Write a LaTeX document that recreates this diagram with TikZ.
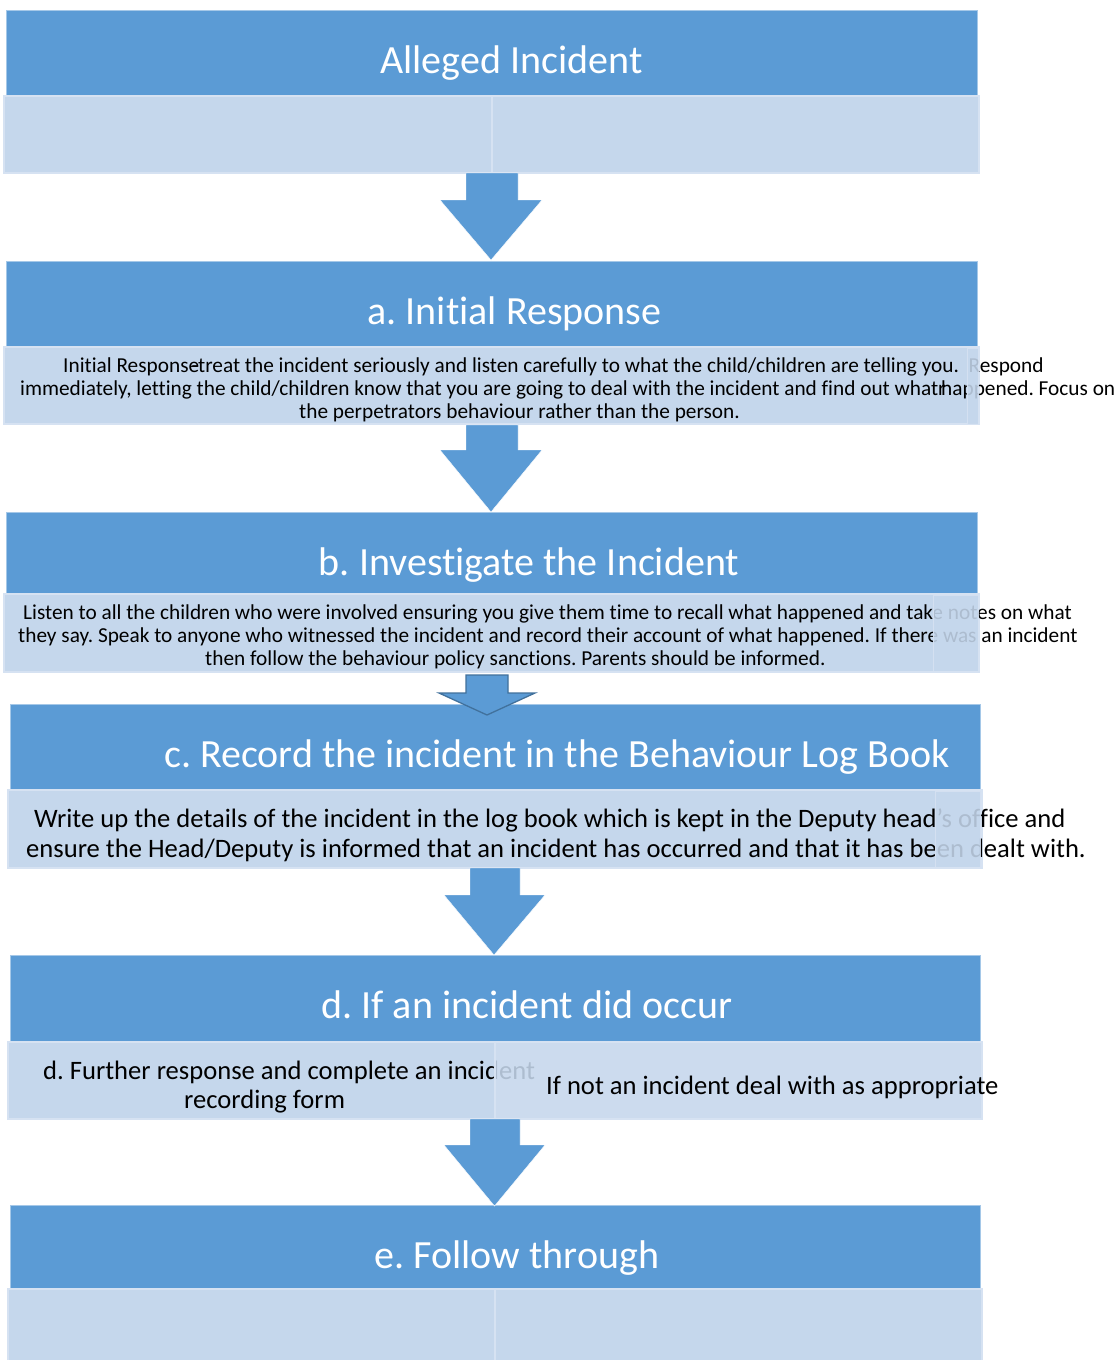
\documentclass[tikz,border=0pt]{standalone}
\usepackage{fontspec}
\setmainfont{Carlito}[Ligatures={NoCommon,NoRequired,NoContextual}]
\usetikzlibrary{calc}
\definecolor{hdr}{HTML}{5B9BD5}
\definecolor{lite}{HTML}{C5D7EC}
\definecolor{liteedge}{HTML}{D6E2F2}
\definecolor{arrowedge}{HTML}{41719C}
\frenchspacing
\begin{document}
\frenchspacing
\begin{tikzpicture}[x=1pt,y=-1pt,
  header/.style={fill=hdr,draw=hdr!55!white,line width=0.8pt,anchor=north west,inner sep=0,outer sep=0},
  litebox/.style={fill=lite,draw=liteedge,line width=1.2pt,anchor=north west,inner sep=0,outer sep=0},
  title/.style={anchor=base,text=white,font=\fontsize{40}{48}\selectfont,inner sep=0},
  bodyA/.style={anchor=base west,font=\fontsize{21.3}{23.5}\selectfont,inner sep=0},
  bodyC/.style={anchor=base west,font=\fontsize{26.6}{32}\selectfont,inner sep=0},
  bodyD/.style={anchor=base west,font=\fontsize{26.6}{32}\selectfont,inner sep=0},
  blockarrow/.style={fill=hdr,draw=white,line width=0.4pt},
  smallarrow/.style={fill=hdr,draw=arrowedge,line width=1.3pt,line join=miter},
  veil/.style={fill=lite,fill opacity=0.88,draw=liteedge,draw opacity=0.9,line width=0.8pt}
]
\fill[white] (0,0) rectangle (1115,1360);
\useasboundingbox (0,0) rectangle (1115,1360);

% ---------- Stage 0 ----------
\node[header,minimum width=971pt,minimum height=86pt] (h0) at (6,10) {};
\node[litebox,minimum width=488pt,minimum height=77pt] (l0a) at (4,96) {};
\node[litebox,minimum width=487pt,minimum height=77pt] (l0b) at (492,96) {};
\node[title] (t0) at (511.5,73) {Alleged Incident};

% ---------- Stage a ----------
\node[header,minimum width=971pt,minimum height=86pt] (ha) at (6,261) {};
\node[litebox,minimum width=975pt,minimum height=77pt] (la) at (4,347) {};
\node[title] (ta) at (514.5,324) {a. Initial Response};
\node[bodyA] (a1) at (63,372) {Initial Respons\rlap{e}\kern3pt-treat the incident seriously and listen carefully to what the child/children are telling you.\ \ Respond};
\node[bodyA] (a2) at (20,395) {immediately, letting the child/children know that you are going to deal with the incident and find out what\rlap{r}\kern3pt happened. Focus on};
\node[bodyA] (a3) at (299,418) {the perpetrators behaviour rather than the person.};
\path[veil] (967,348) rectangle (978,424);

% ---------- Stage b ----------
\node[header,minimum width=971pt,minimum height=81pt] (hb) at (6,512) {};
\node[litebox,minimum width=975pt,minimum height=78pt] (lb) at (4,594) {};
\node[title] (tb) at (529,575) {b. Investigate the Incident};
\node[bodyA] (b1) at (23,619) {Listen to all the children who were involved ensuring you give them time to recall what happened and take notes on what};
\node[bodyA] (b2) at (18,642) {they say. Speak to anyone who witnessed the incident and record their account of what happened. If there was an incident};
\node[bodyA] (b3) at (205,665) {then follow the behaviour policy sanctions. Parents should be informed.};
\path[veil] (933,595) rectangle (978,671);

% ---------- Stage c ----------
\node[header,minimum width=970pt,minimum height=86pt] (hc) at (10,704) {};
\node[litebox,minimum width=974pt,minimum height=78pt] (lc) at (8,790) {};
\node[title] (tc) at (557,767) {c. Record the incident in the Behaviour Log Book};
\node[bodyC] (c1) at (34,827) {Write up the details of the incident in the log book which is kept in the Deputy head’s office and};
\node[bodyC] (c2) at (26,857) {ensure the Head/Deputy is informed that an incident has occurred and that it has been dealt with.};
\path[veil] (935,791) rectangle (980,867);

% ---------- Stage d ----------
\node[header,minimum width=970pt,minimum height=86pt] (hd) at (10,955) {};
\node[litebox,minimum width=487pt,minimum height=77pt] (lda) at (8,1042) {};
\node[title] (td) at (527,1018) {d. If an incident did occur};
\node[bodyD] (d1) at (43,1079) {d. Further response and complete an incident};
\node[bodyD] (d2) at (184,1108) {recording form};
\node[litebox,minimum width=487pt,minimum height=77pt,fill opacity=0.88] (ldb) at (495,1042) {};
\node[bodyD] (d3) at (546,1094) {If not an incident deal with as appropriate};

% ---------- Stage e ----------
\node[header,minimum width=970pt,minimum height=84pt] (he) at (10,1205) {};
\node[litebox,minimum width=487pt,minimum height=75pt] (lea) at (8,1289) {};
\node[litebox,minimum width=487pt,minimum height=75pt] (leb) at (495,1289) {};
\node[title] (te) at (517,1268) {e. Follow through};

% ---------- Arrows ----------
\path[blockarrow] (466,173) -- (518,173) -- (518,200) -- (542,200) -- (491,260) -- (440,200) -- (466,200) -- cycle;
\path[blockarrow] (466,425) -- (518,425) -- (518,450) -- (542,450) -- (491,512) -- (440,450) -- (466,450) -- cycle;
\path[smallarrow] (466,675) -- (508,675) -- (508,693) -- (535,693) -- (487,715) -- (439,693) -- (466,693) -- cycle;
\path[blockarrow] (470,868) -- (520,868) -- (520,895) -- (545,895) -- (494,955) -- (444,895) -- (470,895) -- cycle;
\path[blockarrow] (470,1119) -- (520,1119) -- (520,1145) -- (545,1145) -- (494.5,1206) -- (444,1145) -- (470,1145) -- cycle;
\end{tikzpicture}
\end{document}
